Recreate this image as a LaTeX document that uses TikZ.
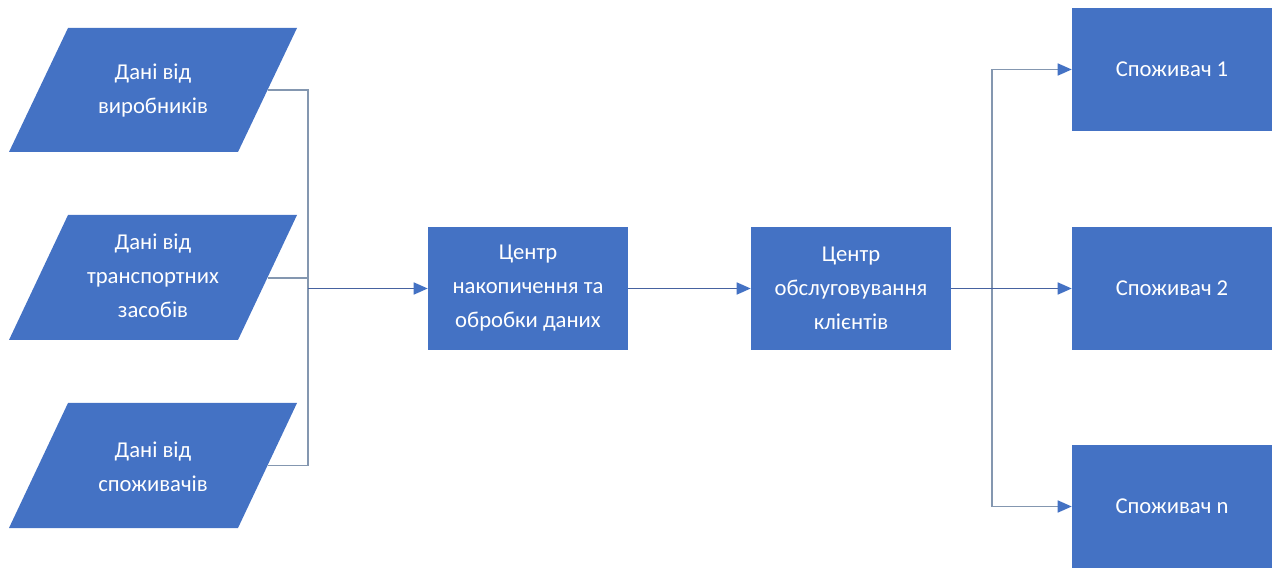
\documentclass[tikz,border=0pt]{standalone}
\usepackage{fontspec}
\setmainfont{Carlito}
\usetikzlibrary{arrows.meta}
\definecolor{boxblue}{RGB}{68,114,196}
\definecolor{linegray}{RGB}{132,151,176}
\definecolor{arrowblue}{RGB}{70,98,160}
\begin{document}
\begin{tikzpicture}[x=0.75pt,y=-0.75pt,
  lbl/.style={text=white,align=center,inner sep=0pt,font=\fontsize{17}{25.5}\selectfont},
  boxnode/.style={fill=boxblue,minimum width=150pt,minimum height=92.25pt,inner sep=0pt,
                  text=white,align=center,font=\fontsize{17}{25.5}\selectfont},
  bracket/.style={draw=linegray,line width=1.2pt},
  arr/.style={draw=arrowblue,line width=1.2pt,-{Triangle[length=10.5pt,width=9pt,color=boxblue]}},
  garr/.style={draw=linegray,line width=1.2pt,-{Triangle[length=10.5pt,width=9pt,color=boxblue]}}]
\useasboundingbox (0,0) rectangle (1272,570);

% input parallelograms
\fill[boxblue] (68,28) -- (297,28) -- (238,152) -- (9,152) -- cycle;
\node[lbl] (p1) at (153,91) {Дані від\\виробників};
\fill[boxblue] (68,215) -- (297,215) -- (238,340) -- (9,340) -- cycle;
\node[lbl] (p2) at (153,276) {Дані від\\транспортних\\засобів};
\fill[boxblue] (68,403) -- (297,403) -- (238,528) -- (9,528) -- cycle;
\node[lbl] (p3) at (153,467) {Дані від\\споживачів};
\coordinate (p1r) at (267.5,90);
\coordinate (p2r) at (267.5,278);
\coordinate (p3r) at (267.5,465.5);

% boxes
\node[boxnode] (b1) at (528,288.5) {Центр\\накопичення та\\обробки даних};
\node[boxnode] (b2) at (851,288.5) {Центр\\обслуговування\\клієнтів};
\node[boxnode] (c1) at (1172,69.5) {Споживач 1};
\node[boxnode] (c2) at (1172,288.5) {Споживач 2};
\node[boxnode] (c3) at (1172,506.5) {Споживач n};

% left bracket
\coordinate (j1) at (308,90);
\coordinate (j2) at (308,278);
\coordinate (j3) at (308,465.5);
\coordinate (jm) at (308,288.5);
\draw[bracket] (p1r) -- (j1) -- (j3) -- (p3r);
\draw[bracket] (p2r) -- (j2);
\draw[arr] (jm) -- (b1.west);
\draw[arr] (b1.east) -- (b2.west);

% right fan-out
\coordinate (k1) at (992,69.5);
\coordinate (k3) at (992,506.5);
\draw[bracket] (k1) -- (k3);
\draw[arr] (b2.east) -- (c2.west);
\draw[garr] (k1) -- (c1.west);
\draw[garr] (k3) -- (c3.west);
\end{tikzpicture}
\end{document}
